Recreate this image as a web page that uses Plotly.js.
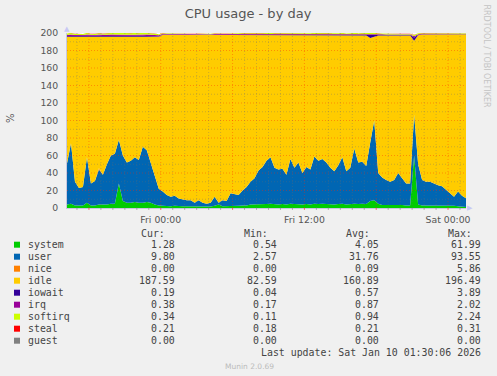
<!DOCTYPE html>
<html>
<head>
<meta charset="utf-8">
<script src="https://cdn.plot.ly/plotly-3.0.1.min.js"></script>
<style>html,body{margin:0;padding:0;background:#F0F0F0;}#chart{width:497px;height:376px;}</style>
</head>
<body>
<div id="chart"></div>
<script>
// ---- data (20-minute samples, Thu 16:10 -> Sat 01:30) ----
const startTime = '2026-01-08 16:10:00';
const stepMinutes = 20;

const system = [4,5,3,3,3,6,3,3,4,4,4,5,5,28,8,6,6,7,6,6,7,6,4,3,
  2.5,2.5,2,2.5,2,2,2,2,1.8,2,1.8,1.5,1.8,2.5,4,2,2,2.5,2.5,2.5,3,3,4,4,4.5,4.5,
  4.5,5,4.5,4,4.5,4,5,4.5,4.5,4,4.5,4,5,4.5,5,4.5,4,4,4.5,5,4,4.5,5,4.5,5,4.5,
  8,9,5,3.5,3.5,3.5,3.5,4,3.5,3,3,60,4,3,3,3,3,3,3,3,2.5,2.5,2,2,1.28];
const user = [47,69,27,20,21,52,25,28,40,34,46,55,57,50,52,46,48,51,49,64,59,46,32,19,
  16.5,12.5,11,11.5,9,8,7,7,4.2,7,4.2,3.5,4.2,10.5,2,7,6,14.5,13.5,12.5,17,21,26,30,38.5,42.5,
  49.5,53,41.5,40,40.5,34,51,41.5,47.5,36,42.5,40,54,49.5,51,47.5,42,38,44.5,53,38,41.5,63,47.5,48,43.5,
  67,91,35,31.5,28.5,26.5,28.5,36,30.5,25,25,47,46,29,27,27,25,23,22,18,15.5,10.5,17,12,9.8];
const nice = [0,0,0,0,0,0,0,0,1.5,0,0,0,0,0,0,0,0,0,0,0,0,0,0,0,
  0,0,0,0,0,0,0,0,0,0,0,0,0,0,0,0,0,0,0,0,0,0,0,0,0,0,
  0,0,0,0,0,0,0,0,0,0,0,0,0,0,0,0,0,0,0,0,0,0,0,0,0,0,
  0,0,0,0,0,0,0,0,0,0,0,0,0,0,0,0,0,0,0,0,0,0,0,0,0];
const idle = [144.7,121.7,165.7,172.7,171.7,137.7,167.7,164.7,150.5,157.7,145.7,135.7,133.7,117.7,135.7,143.7,141.7,137.7,140.7,125.7,129.7,143.7,159.7,173.7,
  179,183,185,184,187,188,189,189,192,189,192,193,192,185,192,189,190,181,182,183,178,174,
  167.3,163.3,154.3,150.3,143.3,139.3,151.3,153.3,152.3,159.3,141.3,
  151.2,145.2,157.2,150.2,153.2,138.2,143.2,141.2,145.2,151.2,155.2,148.2,139.2,155.2,151.2,129.2,145.2,144.2,149.2,
  119.2,95.7,
  157.2,162.2,165.2,167.2,165.2,157.2,163.2,169.2,169.2,
  84.1,147.4,
  166.2,168.2,168.2,170.2,172.2,173.2,177.2,180.2,185.2,179.2,184.2,
  187.59];
const iowait = [0.8,0.9,0.7,0.7,0.8,1.0,0.7,0.7,0.8,0.8,0.9,1.0,1.1,1.2,1.0,0.9,0.9,1.0,0.9,1.1,1.0,0.9,0.7,0.6,
  0.4,0.4,0.3,0.4,0.3,0.3,0.3,0.3,0.2,0.3,0.2,0.2,0.3,0.4,0.3,0.3,0.3,0.4,0.4,0.4,0.4,0.5,
  0.4,0.5,0.5,0.5,0.6,0.6,0.5,0.5,0.5,0.4,0.6,
  0.5,0.5,0.4,0.5,0.5,0.6,0.5,0.6,0.5,0.5,0.4,0.5,0.6,0.4,0.5,0.7,0.5,0.5,0.5,
  3.5,2.0,
  0.5,0.5,0.4,0.4,0.4,0.5,0.4,0.4,0.4,
  3.9,0.4,
  0.3,0.3,0.3,0.3,0.3,0.3,0.2,0.2,0.2,0.2,0.2,
  0.19];
const irq = [1.3,1.6,1.2,1.1,1.1,1.5,1.2,1.2,1.4,1.3,1.5,1.6,1.6,1.8,1.6,1.5,1.5,1.6,1.5,1.7,1.7,1.5,1.3,1.1,
  0.7,0.6,0.6,0.6,0.5,0.5,0.5,0.5,0.4,0.5,0.4,0.4,0.4,0.6,0.4,0.5,0.5,0.6,0.6,0.6,0.7,0.7,
  0.8,0.8,0.9,0.9,1.0,1.0,0.9,0.9,0.9,0.8,1.0,0.9,1.0,0.8,0.9,0.9,1.0,1.0,1.0,0.9,0.9,0.8,0.9,1.0,0.8,0.9,1.1,0.9,0.9,0.9,1.1,1.2,0.8,0.8,0.7,0.7,0.8,0.8,0.7,0.7,0.7,1.3,0.9,
  0.6,0.6,0.6,0.5,0.5,0.5,0.5,0.4,0.4,0.4,0.4,
  0.38];
const softirq = [1.5,1.8,1.3,1.2,1.2,1.7,1.3,1.3,1.5,1.4,1.6,1.8,1.8,2.1,1.8,1.7,1.7,1.8,1.7,2.0,1.9,1.7,1.4,1.1,
  0.7,0.6,0.5,0.6,0.5,0.5,0.4,0.4,0.3,0.4,0.3,0.3,0.3,0.5,0.3,0.4,0.4,0.6,0.6,0.6,0.7,0.8,
  0.9,1.0,1.1,1.1,1.2,1.2,1.1,1.0,1.1,0.9,1.2,1.0,1.1,0.9,1.0,1.0,1.2,1.1,1.1,1.1,1.0,0.9,1.0,1.2,0.9,1.0,1.3,1.0,1.0,1.0,1.4,1.6,0.9,0.8,0.8,0.8,0.8,0.8,0.7,0.7,0.7,1.5,0.9,
  0.6,0.6,0.6,0.5,0.5,0.5,0.5,0.4,0.4,0.4,0.4,
  0.34];
const steal = [0.2,0.2,0.2,0.2,0.2,0.2,0.2,0.2,0.2,0.2,0.2,0.2,0.2,0.3,0.2,0.2,0.2,0.2,0.2,0.2,0.2,0.2,0.2,0.2,
  0.2,0.2,0.2,0.2,0.2,0.2,0.2,0.2,0.2,0.2,0.2,0.2,0.2,0.2,0.2,0.2,0.2,0.2,0.2,0.2,0.2,0.2,0.2,0.2,0.2,0.2,
  0.2,0.2,0.2,0.2,0.2,0.2,0.2,0.2,0.2,0.2,0.2,0.2,0.2,0.2,0.2,0.2,0.2,0.2,0.2,0.2,0.2,0.2,0.2,0.2,0.2,0.2,
  0.3,0.2,0.2,0.2,0.2,0.2,0.2,0.2,0.2,0.2,0.2,0.3,0.2,0.2,0.2,0.2,0.2,0.2,0.2,0.2,0.2,0.2,0.2,0.2,0.21];
const guest = [0,0,0,0,0,0,0,0,0,0,0,0,0,0,0,0,0,0,0,0,0,0,0,0,
  0,0,0,0,0,0,0,0,0,0,0,0,0,0,0,0,0,0,0,0,0,0,0,0,0,0,
  0,0,0,0,0,0,0,0,0,0,0,0,0,0,0,0,0,0,0,0,0,0,0,0,0,0,
  0,0,0,0,0,0,0,0,0,0,0,0,0,0,0,0,0,0,0,0,0,0,0,0,0];

const seriesNames = ['system','user','nice','idle','iowait','irq','softirq','steal','guest'];
const seriesColors = ['#00CC00','#0066B3','#FF8000','#FFCC00','#330099','#990099','#CCFF00','#FF0000','#808080'];
const curVals = ['1.28','9.80','0.00','187.59','0.19','0.38','0.34','0.21','0.00'];
const minVals = ['0.54','2.57','0.00','82.59','0.04','0.17','0.11','0.18','0.00'];
const avgVals = ['4.05','31.76','0.09','160.89','0.57','0.87','0.94','0.21','0.00'];
const maxVals = ['61.99','93.55','5.86','196.49','3.89','2.02','2.24','0.31','0.00'];
const xTickVals = ['2026-01-09 00:00:00','2026-01-09 12:00:00','2026-01-10 00:00:00'];
const xTickText = ['Fri 00:00','Fri 12:00','Sat 00:00'];
const yTickVals = [0,20,40,60,80,100,120,140,160,180,200];
const lastUpdate = 'Last update: Sat Jan 10 01:30:06 2026';

// ---- layout helpers ----
const L = 67, T = 33, W = 399, H = 175;
const px = x => (x - L) / W;
const py = y => (T + H - y) / H;
const toMs = s => Date.parse(s.replace(' ', 'T') + 'Z');
const fmt = ms => new Date(ms).toISOString().slice(0, 19).replace('T', ' ');

const t0 = toMs(startTime);
const times = system.map((_, i) => fmt(t0 + i * stepMinutes * 60000));
const xEnd = times[times.length - 1];

const allSeries = [system, user, nice, idle, iowait, irq, softirq, steal, guest];
const traces = allSeries.map((vals, k) => ({
  x: times, y: vals, type: 'scatter', mode: 'lines',
  stackgroup: 'cpu', line: {width: 0, color: seriesColors[k]},
  fillcolor: seriesColors[k], name: seriesNames[k], hoverinfo: 'skip'
}));

// grid lines drawn above the areas (as rrdtool does)
const shapes = [];
const minorCol = 'rgba(110,110,110,0.35)', majorCol = 'rgba(255,40,0,0.38)';
for (let v = 10; v < 200; v += 10) {
  shapes.push({type: 'line', layer: 'above', xref: 'paper', yref: 'y', x0: 0, x1: 1, y0: v, y1: v,
    line: {width: 1, dash: '1px,2px', color: v % 20 === 0 ? majorCol : minorCol}});
}
const firstHour = Math.ceil(t0 / 3600000) * 3600000;
for (let ms = firstHour; ms < toMs(xEnd); ms += 3600000) {
  const h = new Date(ms).getUTCHours();
  shapes.push({type: 'line', layer: 'above', xref: 'x', yref: 'paper', x0: fmt(ms), x1: fmt(ms), y0: 0, y1: 1,
    line: {width: 1, dash: '1px,2px', color: h % 6 === 0 ? majorCol : minorCol}});
  shapes.push({type: 'line', layer: 'above', xref: 'x', yref: 'paper', x0: fmt(ms), x1: fmt(ms), y0: 0, y1: py(T + H + 2),
    line: {width: 1, color: h % 6 === 0 ? 'rgba(255,0,0,0.5)' : 'rgba(120,120,120,0.5)'}});
}

// legend colour squares
const mono = {family: 'DejaVu Sans Mono, monospace', size: 9.9, color: '#444'};
const ann = [];
const rowY0 = 244.7, rowStep = 12;
seriesNames.forEach((name, k) => {
  const y = rowY0 + k * rowStep;
  shapes.push({type: 'rect', xref: 'paper', yref: 'paper', x0: px(14), x1: px(20), y0: py(y - 3), y1: py(y + 3),
    fillcolor: seriesColors[k], line: {width: 0}});
  ann.push({text: name, x: px(27), y: py(y), xanchor: 'left'});
  ann.push({text: curVals[k], x: px(176), y: py(y), xanchor: 'right'});
  ann.push({text: minVals[k], x: px(278), y: py(y), xanchor: 'right'});
  ann.push({text: avgVals[k], x: px(380), y: py(y), xanchor: 'right'});
  ann.push({text: maxVals[k], x: px(482), y: py(y), xanchor: 'right'});
});
[['Cur:', 140], ['Min:', 243], ['Avg:', 345], ['Max:', 447]].forEach(([t, x]) =>
  ann.push({text: t, x: px(x), y: py(233), xanchor: 'left'}));
ann.push({text: lastUpdate, x: px(482), y: py(352.7), xanchor: 'right'});
const annotations = ann.map(a => Object.assign({xref: 'paper', yref: 'paper', yanchor: 'middle', showarrow: false,
  borderpad: 0, font: mono}, a));

annotations.push(
  {text: 'Munin 2.0.69', xref: 'paper', yref: 'paper', x: px(249), y: py(366), xanchor: 'center', yanchor: 'middle',
   showarrow: false, borderpad: 0, font: {family: 'DejaVu Sans', size: 7.5, color: '#bbbbbb'}},
  {text: '%', xref: 'paper', yref: 'paper', x: px(10), y: py(118), xanchor: 'center', yanchor: 'middle',
   textangle: -90, showarrow: false, borderpad: 0, font: {family: 'DejaVu Sans', size: 10, color: '#555'}},
  {text: 'RRDTOOL / TOBI OETIKER', xref: 'paper', yref: 'paper', x: px(486.5), y: py(56), xanchor: 'center', yanchor: 'middle',
   textangle: 90, showarrow: false, borderpad: 0, font: {family: 'DejaVu Sans', size: 8, color: '#c4c4c4'}},
  {text: '▲', xref: 'paper', yref: 'paper', x: px(67), y: py(29.5), xanchor: 'center', yanchor: 'middle',
   showarrow: false, borderpad: 0, font: {family: 'DejaVu Sans', size: 7, color: '#c8c8f4'}},
  {text: '▶', xref: 'paper', yref: 'paper', x: px(470), y: py(208.3), xanchor: 'center', yanchor: 'middle',
   showarrow: false, borderpad: 0, font: {family: 'DejaVu Sans', size: 7, color: '#c8c8f4'}}
);

const layout = {
  width: 497, height: 376,
  margin: {l: L, r: 497 - L - W, t: T, b: 376 - T - H, pad: 0},
  paper_bgcolor: '#F0F0F0', plot_bgcolor: '#FFFFFF',
  showlegend: false,
  title: {text: 'CPU usage - by day', x: 248 / 497, y: 1 - 13 / 376, xanchor: 'center', yanchor: 'middle',
    font: {family: 'DejaVu Sans', size: 13, color: '#555'}},
  xaxis: {type: 'date', range: [times[0], xEnd], tickvals: xTickVals, ticktext: xTickText,
    showgrid: false, zeroline: false, showline: true, linecolor: '#c8c8e0', linewidth: 1,
    ticks: '', ticklabelstandoff: 3, tickfont: {family: 'DejaVu Sans', size: 9.3, color: '#555'}, fixedrange: true},
  yaxis: {range: [0, 200], tickvals: yTickVals, showgrid: false, zeroline: false, showline: true,
    linecolor: '#c8c8e0', linewidth: 1, ticks: '', ticklabelstandoff: 6,
    tickfont: {family: 'DejaVu Sans', size: 9.3, color: '#555'}, fixedrange: true},
  shapes: shapes,
  annotations: annotations
};

Plotly.newPlot('chart', traces, layout, {staticPlot: true, displayModeBar: false});
</script>
</body>
</html>
